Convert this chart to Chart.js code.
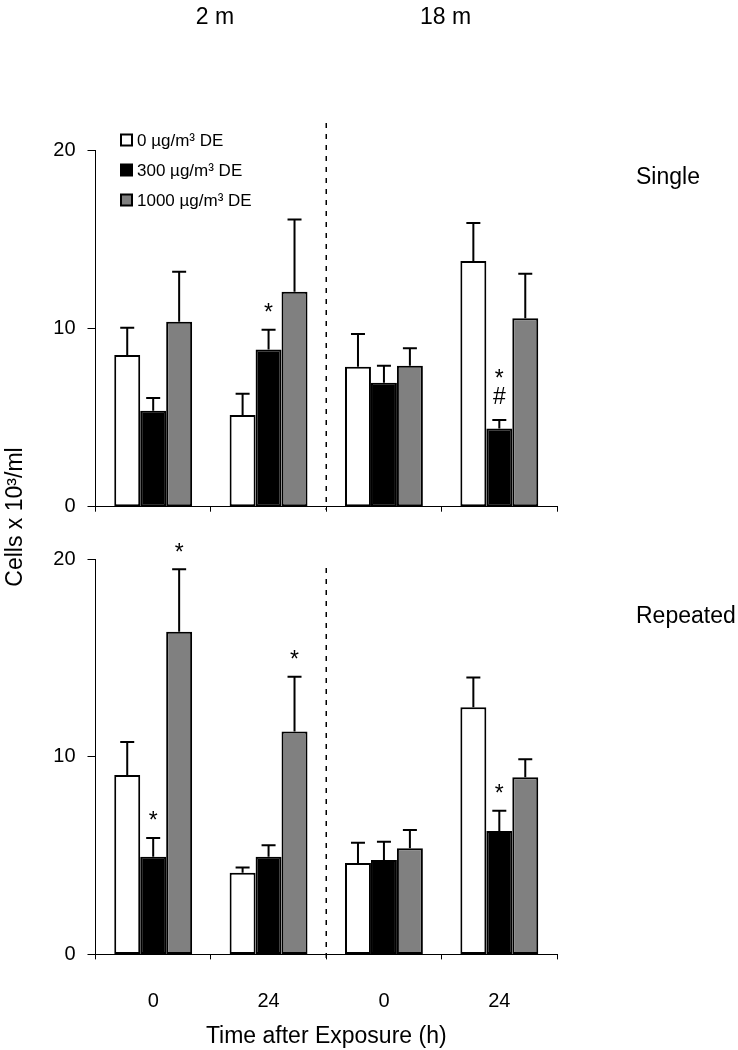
<!DOCTYPE html>
<html>
<head>
<meta charset="utf-8">
<script src="https://cdn.jsdelivr.net/npm/chart.js@4.4.1/dist/chart.umd.min.js"></script>
<style>
  html, body { margin: 0; padding: 0; background: #fff; }
  #wrap { position: relative; width: 738px; height: 1050px; }
  #wrap canvas { position: absolute; left: 0; top: 0; }
</style>
</head>
<body>
<div id="wrap">
  <canvas id="single" width="738" height="1050"></canvas>
  <canvas id="repeated" width="738" height="1050"></canvas>
</div>
<script>
const categories = ["0", "24", "0", "24"];
const ageGroups = ["2 m", "18 m"];
const seriesLabels = ["0 µg/m³ DE", "300 µg/m³ DE", "1000 µg/m³ DE"];
const seriesColors = ["#ffffff", "#000000", "#808080"];

// single exposure
const single0 = [8.5, 5.14, 7.85, 13.77];
const single300 = [5.38, 8.82, 6.95, 4.39];
const single1000 = [10.37, 12.05, 7.9, 10.56];
const singleErr0 = [1.53, 1.2, 1.83, 2.13];
const singleErr300 = [0.71, 1.1, 0.95, 0.47];
const singleErr1000 = [2.8, 4.05, 0.98, 2.5];
const singleMarks0 = ["", "", "", ""];
const singleMarks300 = ["", "*", "", "*#"];
const singleMarks1000 = ["", "", "", ""];

// repeated exposure
const repeated0 = [9.07, 4.13, 4.62, 12.5];
const repeated300 = [4.94, 4.94, 4.78, 6.24];
const repeated1000 = [16.32, 11.27, 5.37, 8.96];
const repeatedErr0 = [1.67, 0.27, 1.03, 1.5];
const repeatedErr300 = [0.95, 0.58, 0.92, 1.03];
const repeatedErr1000 = [3.16, 2.78, 0.92, 0.91];
const repeatedMarks0 = ["", "", "", ""];
const repeatedMarks300 = ["*", "", "", "*"];
const repeatedMarks1000 = ["*", "*", "", ""];

const yTicks = [0, 10, 20];

const FONT = "'Liberation Sans', Arial, sans-serif";
Chart.defaults.font.family = FONT;
Chart.defaults.color = "#000";

function makeDatasets(means, errs, marks) {
  return means.map((m, i) => ({
    label: seriesLabels[i],
    data: m,
    errors: errs[i],
    marks: marks[i],
    backgroundColor: seriesColors[i],
    borderColor: "#000",
    borderWidth: 2,
    borderSkipped: false,
    categoryPercentage: 0.675,
    barPercentage: 1.0
  }));
}

// error bars + significance marks
const errorBars = {
  id: "errorBars",
  afterDatasetsDraw(chart) {
    const ctx = chart.ctx;
    const ys = chart.scales.y;
    ctx.save();
    chart.data.datasets.forEach((ds, i) => {
      const meta = chart.getDatasetMeta(i);
      meta.data.forEach((bar, j) => {
        const top = ys.getPixelForValue(ds.data[j] + ds.errors[j]);
        ctx.strokeStyle = "#000";
        ctx.lineWidth = 2;
        ctx.beginPath();
        ctx.moveTo(bar.x, bar.y);
        ctx.lineTo(bar.x, top);
        ctx.moveTo(bar.x - 7, top);
        ctx.lineTo(bar.x + 7, top);
        ctx.stroke();
        const mk = ds.marks[j];
        if (mk) {
          ctx.fillStyle = "#000";
          ctx.font = "23px " + FONT;
          ctx.textAlign = "center";
          ctx.textBaseline = "middle";
          const chars = mk.split("");
          chars.reverse().forEach((c, k) => {
            const y = top - 22 - 24 * k;
            ctx.fillText(c, bar.x, c === "*" ? y + 6 : y);
          });
        }
      });
    });
    ctx.restore();
  }
};

// dashed divider between age groups + side labels
const panelDecor = {
  id: "panelDecor",
  afterDraw(chart, args, opts) {
    const ctx = chart.ctx;
    const xs = chart.scales.x;
    const dx = (xs.getPixelForValue(1) + xs.getPixelForValue(2)) / 2;
    ctx.save();
    ctx.strokeStyle = "#000";
    ctx.lineWidth = 1.5;
    ctx.setLineDash([5, 6]);
    ctx.beginPath();
    ctx.moveTo(dx, opts.dashTop);
    ctx.lineTo(dx, opts.dashBottom);
    ctx.stroke();
    ctx.setLineDash([]);
    ctx.fillStyle = "#000";
    ctx.font = "23px " + FONT;
    ctx.textAlign = "left";
    ctx.textBaseline = "middle";
    ctx.fillText(opts.name, 636, opts.nameY);

    if (opts.header) {
      ctx.textAlign = "center";
      ageGroups.forEach((g, k) => {
        const gx = (xs.getPixelForValue(2 * k) + xs.getPixelForValue(2 * k + 1)) / 2;
        ctx.fillText(g, gx + 4, 18);
      });
      // shared y title
      ctx.save();
      ctx.translate(16, 517);
      ctx.rotate(-Math.PI / 2);
      ctx.fillText("Cells x 10³/ml", 0, 0);
      ctx.restore();
      // legend
      ctx.font = "17px " + FONT;
      ctx.textAlign = "left";
      seriesLabels.forEach((lab, k) => {
        const ly = 140 + 30 * k;
        ctx.fillStyle = seriesColors[k];
        ctx.fillRect(121, ly - 5.5, 11, 11);
        ctx.strokeStyle = "#000";
        ctx.lineWidth = 2;
        ctx.strokeRect(121, ly - 5.5, 11, 11);
        ctx.fillStyle = "#000";
        ctx.fillText(lab, 137, ly + 1);
      });
    }
    ctx.restore();
  }
};

function makePanel(id, datasets, cfg) {
  return new Chart(document.getElementById(id), {
    type: "bar",
    data: { labels: categories, datasets: datasets },
    options: {
      responsive: false,
      animation: false,
      layout: { padding: { top: cfg.padTop, bottom: cfg.padBottom, left: 0, right: 181 } },
      plugins: {
        legend: { display: false },
        tooltip: { enabled: false },
        panelDecor: cfg.decor
      },
      scales: {
        x: {
          afterFit: s => { s.height = cfg.xHeight; },
          grid: { drawOnChartArea: false, offset: true, color: "#000", tickLength: 5 },
          border: { color: "#000", width: 1 },
          ticks: { display: cfg.showX, font: { size: 20 }, padding: 30, color: "#000" },
          title: {
            display: cfg.showX,
            text: "Time after Exposure (h)",
            font: { size: 23 },
            padding: { top: 0, bottom: 0 }
          }
        },
        y: {
          min: 0,
          max: 20,
          afterFit: s => { s.width = 95.5; },
          afterBuildTicks: s => { s.ticks = yTicks.map(v => ({ value: v })); },
          grid: { drawOnChartArea: false, color: "#000", tickLength: 8 },
          border: { color: "#000", width: 1 },
          ticks: { font: { size: 20 }, padding: 12, color: "#000" }
        }
      }
    },
    plugins: [errorBars, panelDecor]
  });
}

makePanel("single",
  makeDatasets([single0, single300, single1000],
               [singleErr0, singleErr300, singleErr1000],
               [singleMarks0, singleMarks300, singleMarks1000]),
  { padTop: 150, padBottom: 533.3, xHeight: 10, showX: false,
    decor: { dashTop: 123, dashBottom: 510, name: "Single", nameY: 178, header: true } });

makePanel("repeated",
  makeDatasets([repeated0, repeated300, repeated1000],
               [repeatedErr0, repeatedErr300, repeatedErr1000],
               [repeatedMarks0, repeatedMarks300, repeatedMarks1000]),
  { padTop: 559, padBottom: 0, xHeight: 95.6, showX: true,
    decor: { dashTop: 568, dashBottom: 960, name: "Repeated", nameY: 617, header: false } });
</script>
</body>
</html>
